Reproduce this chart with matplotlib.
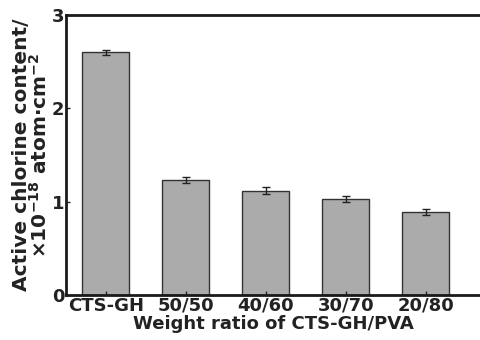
import matplotlib
matplotlib.use("Agg")
import matplotlib.pyplot as plt
import numpy as np

# data
categories = ["CTS-GH", "50/50", "40/60", "30/70", "20/80"]
values = [2.60, 1.23, 1.12, 1.03, 0.89]
errors = [0.03, 0.03, 0.035, 0.03, 0.03]
yticks = [0, 1, 2, 3]

plt.rcParams['font.family'] = ['DejaVu Sans']
plt.rcParams['font.weight'] = 'bold'
plt.rcParams['mathtext.default'] = 'bf'

fig = plt.figure(figsize=(4.81, 3.4), dpi=100)
ax = fig.add_axes([0.137, 0.132, 0.863, 0.824])

x = np.arange(len(categories))
ax.bar(x, values, width=0.59, color='#ababab', edgecolor='#333333', linewidth=1.0,
       yerr=errors, capsize=3, error_kw=dict(elinewidth=1.0, capthick=1.0, ecolor='#222222'))

ax.set_xlim(-0.5, 4.69)
ax.set_ylim(0, 3)
ax.set_xticks(x, categories)
ax.set_yticks(yticks)
ax.tick_params(direction='in', length=3, width=1, labelsize=13, pad=1, colors='#222222')
for lab in ax.get_xticklabels() + ax.get_yticklabels():
    lab.set_fontweight('bold')

ax.spines['right'].set_visible(False)
for s in ['left', 'top', 'bottom']:
    ax.spines[s].set_linewidth(2)
    ax.spines[s].set_color('#1a1a1a')

ax.set_xlabel('Weight ratio of CTS-GH/PVA', fontsize=13, fontweight='bold', labelpad=0.5,
              color='#222222')
ax.set_ylabel('Active chlorine content/\n×10$^{-18}$ atom·cm$^{-2}$',
              fontsize=14.5, fontweight='bold', labelpad=1, linespacing=0.9, color='#222222')

fig.savefig('out.png', dpi=100)
